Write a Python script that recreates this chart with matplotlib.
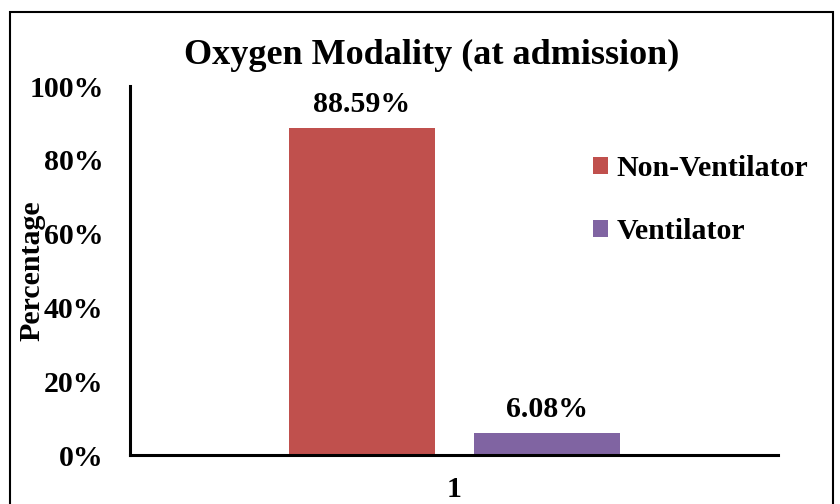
import matplotlib
matplotlib.use("Agg")
import matplotlib.pyplot as plt
from matplotlib.patches import Rectangle

categories = ["1"]
series_names = ["Non-Ventilator", "Ventilator"]
values = [88.59, 6.08]
colors = ["#C0504D", "#8064A2"]
yticks = [0, 20, 40, 60, 80, 100]
ytick_labels = ["0%", "20%", "40%", "60%", "80%", "100%"]

plt.rcParams['font.family'] = ['Liberation Serif', 'DejaVu Serif']
plt.rcParams['font.weight'] = 'bold'

FS = 21.5
fig = plt.figure(figsize=(8.4, 5.04), dpi=100)
ax = fig.add_axes([130/840, 49/504, 648/840, 369/504])

offsets = [-0.142, 0.143]
width = 0.225
for name, v, c, off in zip(series_names, values, colors, offsets):
    ax.bar(0 + off, v, width=width, color=c, label=name)
    ax.text(0 + off, v + 2.7, f"{v:.2f}%", ha='center', va='bottom',
            fontsize=FS, fontweight='bold')

ax.set_xlim(-0.5, 0.5)
ax.set_ylim(0, 100)
ax.set_yticks(yticks)
ax.set_yticklabels(ytick_labels, fontsize=FS, fontweight='bold')
ax.set_xticks([0])
ax.set_xticklabels(categories, fontsize=FS, fontweight='bold')
ax.tick_params(axis='both', length=0)
ax.tick_params(axis='y', pad=19)
ax.tick_params(axis='x', pad=15)
for s in ['top', 'right']:
    ax.spines[s].set_visible(False)
for s in ['left', 'bottom']:
    ax.spines[s].set_linewidth(2.2)

ax.set_ylabel("Percentage", fontsize=FS, fontweight='bold')
ax.yaxis.set_label_coords((45 - 130) / 648, 0.5)

fig.text(432/840, 1 - 55/504, "Oxygen Modality (at admission)", ha='center', va='center',
         fontsize=26, fontweight='bold')

ax.legend(loc='upper left', bbox_to_anchor=(566/840, 1 - 128/504), bbox_transform=fig.transFigure,
          frameon=False, prop={'weight': 'bold', 'size': FS},
          handlelength=0.5, handleheight=0.5, handletextpad=0.3, labelspacing=1.2)

fig.patches.append(Rectangle((10/840, -0.05), 823/840, 1.05 - 12/504, transform=fig.transFigure,
                             fill=False, edgecolor='black', linewidth=1.5))

fig.savefig("out.png", dpi=100)
